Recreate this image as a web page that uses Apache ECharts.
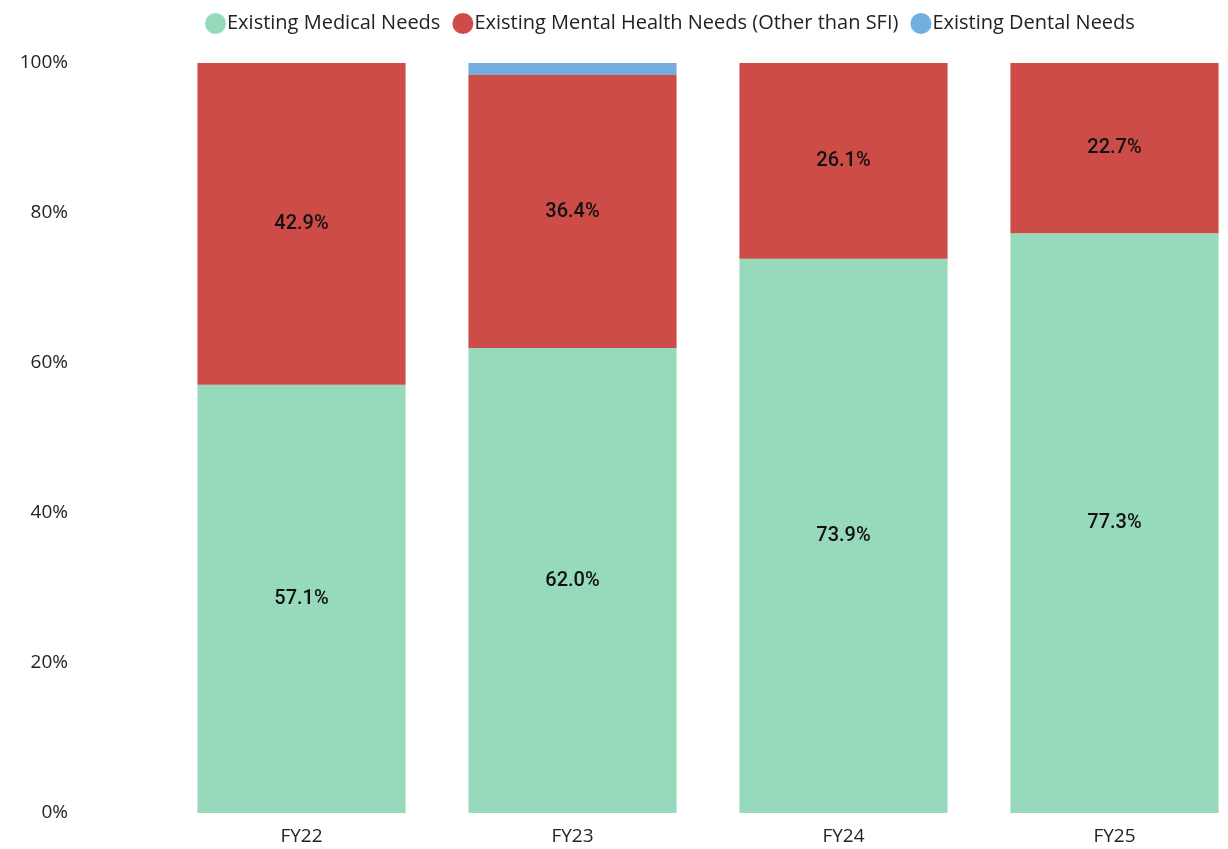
<!DOCTYPE html>
<html>
<head>
<meta charset="utf-8">
<script src="https://cdn.jsdelivr.net/npm/echarts@6/dist/echarts.min.js"></script>
<style>
  html, body { margin: 0; padding: 0; background: #fff; }
  #chart { width: 1228px; height: 849px; }
</style>
</head>
<body>
<div id="chart"></div>
<script>
var categories = ['FY22', 'FY23', 'FY24', 'FY25'];
var medical = [57.1, 62.0, 73.9, 77.3];
var mental = [42.9, 36.4, 26.1, 22.7];
var dental = [0, 1.6, 0, 0];
var yTicks = [0, 20, 40, 60, 80, 100];

var chart = echarts.init(document.getElementById('chart'));

var labelStyle = {
    show: true,
    position: 'inside',
    color: '#111',
    fontFamily: 'Roboto',
    fontWeight: 500,
    fontSize: 20,
    formatter: function (p) { return p.value.toFixed(1) + '%'; }
};

var option = {
    animation: false,
    legend: {
        top: 8,
        left: 200,
        itemGap: 12,
        itemWidth: 21,
        itemHeight: 21,
        icon: 'circle',
        textStyle: { fontFamily: 'Open Sans', fontSize: 20, color: '#222', padding: [0, 0, 0, -4] },
        data: ['Existing Medical Needs', 'Existing Mental Health Needs (Other than SFI)', 'Existing Dental Needs']
    },
    grid: { left: 166, width: 1084, top: 63, bottom: 36, outerBoundsMode: 'none', containLabel: false },
    xAxis: {
        type: 'category',
        data: categories,
        axisLine: { show: false },
        axisTick: { show: false },
        axisLabel: { fontFamily: 'Open Sans', fontSize: 19, color: '#222', margin: 14 }
    },
    yAxis: {
        type: 'value',
        min: yTicks[0],
        max: yTicks[yTicks.length - 1],
        interval: 20,
        splitLine: { show: false },
        axisLabel: { fontFamily: 'Open Sans', fontSize: 19, color: '#222', margin: 98, padding: [4, 0, 0, 0], formatter: '{value}%' }
    },
    series: [
        {
            name: 'Existing Medical Needs',
            type: 'bar',
            stack: 'total',
            barCategoryGap: '23.2%',
            itemStyle: { color: '#97dabb' },
            label: labelStyle,
            data: medical
        },
        {
            name: 'Existing Mental Health Needs (Other than SFI)',
            type: 'bar',
            stack: 'total',
            itemStyle: { color: '#cd4c47' },
            label: labelStyle,
            data: mental
        },
        {
            name: 'Existing Dental Needs',
            type: 'bar',
            stack: 'total',
            itemStyle: { color: '#72afe0' },
            label: { show: false },
            data: dental
        }
    ]
};

chart.setOption(option);
</script>
</body>
</html>
